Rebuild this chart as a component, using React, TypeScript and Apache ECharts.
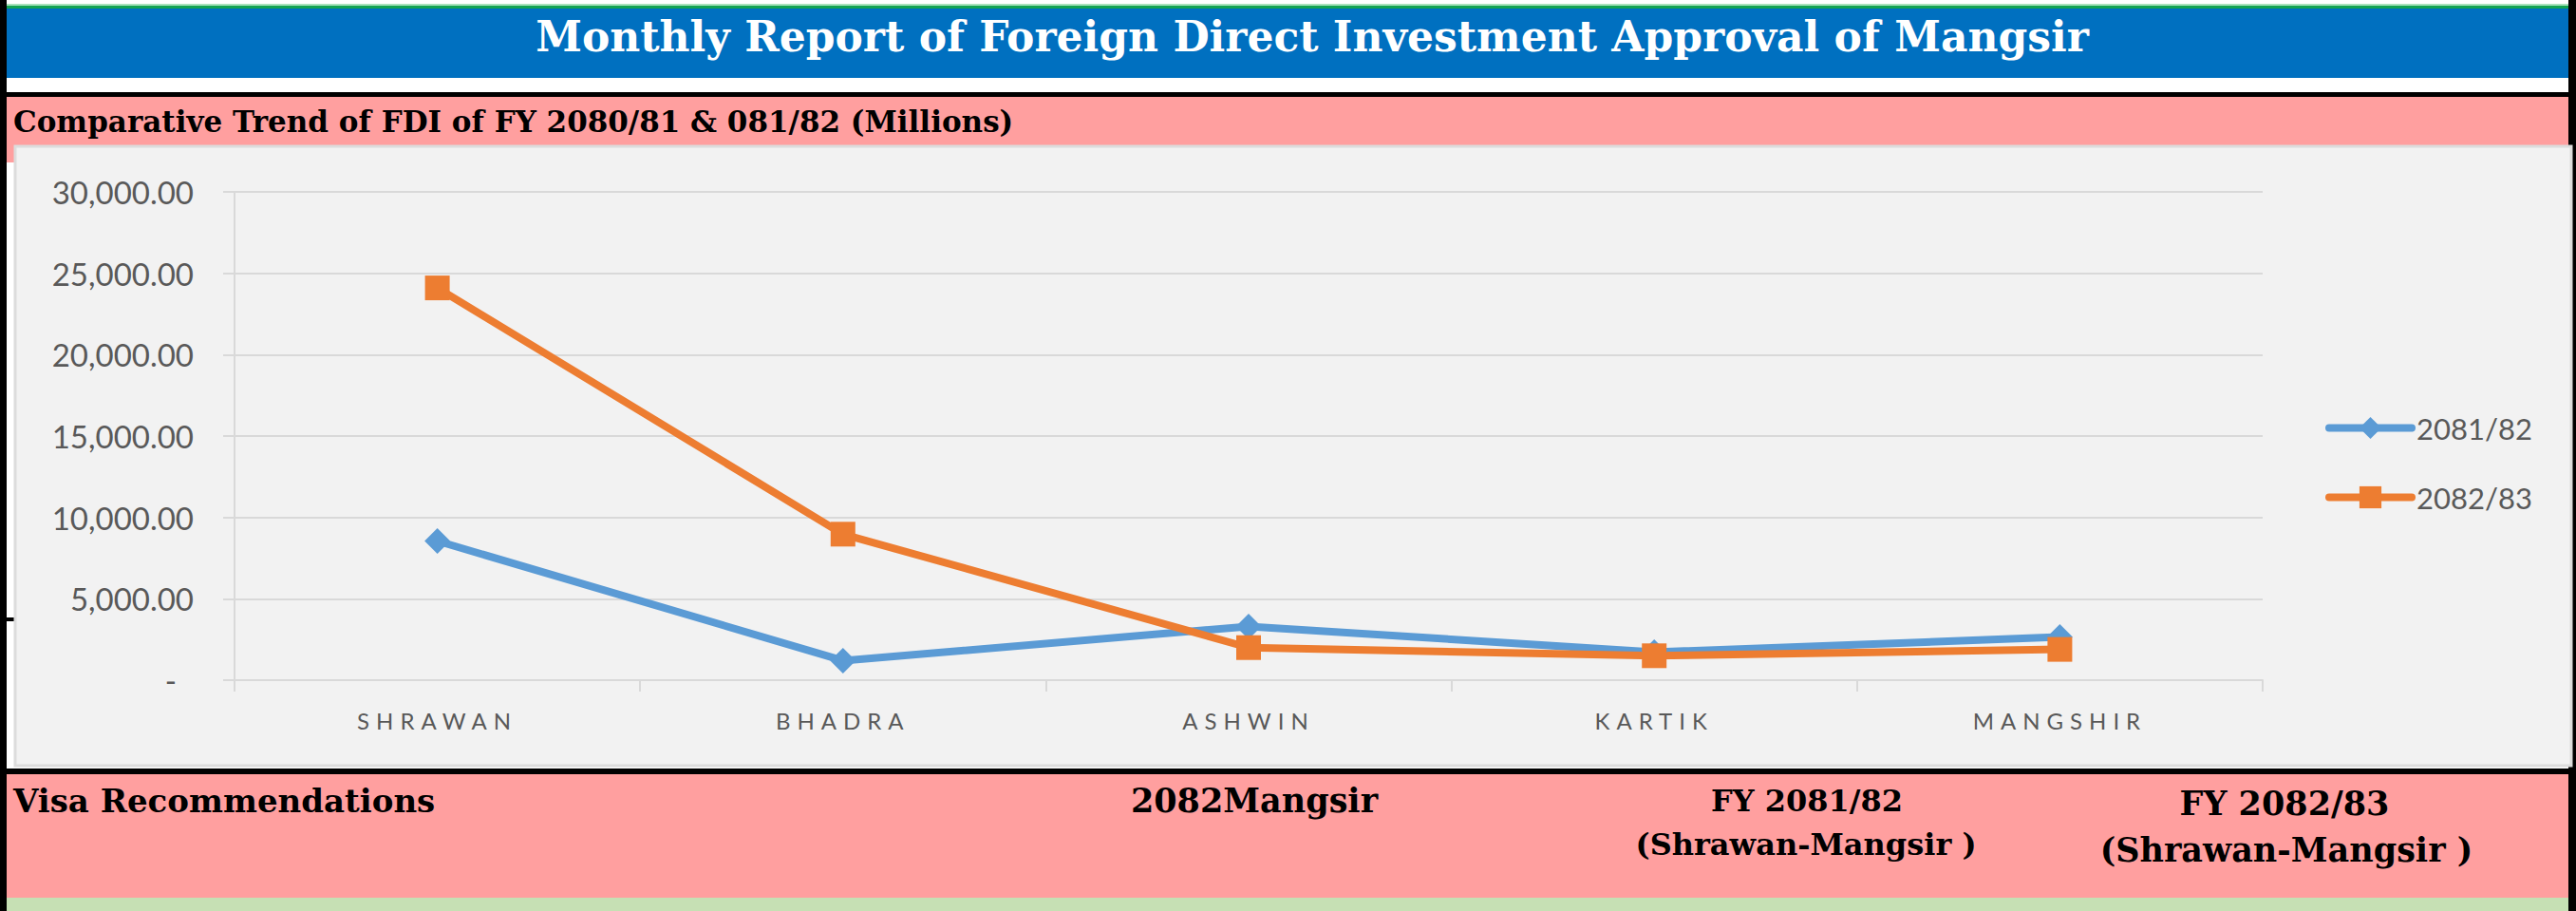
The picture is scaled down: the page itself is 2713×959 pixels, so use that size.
import React, { useEffect, useRef } from "react";
import * as echarts from "echarts";

// Monthly FDI approvals (NPR millions) for the first five months of each fiscal year
const months = ["SHRAWAN", "BHADRA", "ASHWIN", "KARTIK", "MANGSHIR"];
const fy8182 = [8550, 1200, 3300, 1720, 2650];
const fy8283 = [24100, 8970, 2000, 1500, 1890];
const seriesNames = ["2081/82", "2082/83"];
const yMin = 0;
const yMax = 30000;
const yStep = 5000;

// Report sheet texts
const pageTitle = "Monthly Report of Foreign Direct Investment Approval of Mangsir";
const chartHeading = "Comparative Trend of FDI of FY 2080/81 & 081/82 (Millions)";
const visaHeading = "Visa Recommendations";
const monthHeading = "2082Mangsir";
const fyHeadings = ["FY 2081/82", "FY 2082/83"];
const periodLabel = "(Shrawan-Mangsir )";

const W = 2713;
const H = 959;
const SERIF = "'DejaVu Serif', serif";
const SANS = "Lato, 'Liberation Sans', sans-serif";
const AXIS_TEXT = "#595959";
const GRID = "#d9d9d9";
const BLUE = "#5b9bd5";
const ORANGE = "#ed7d31";

// accounting-style number: 30,000.00, zero shown as a dash
const accounting = (v: number) =>
  v === 0 ? "{z|-}" : v.toFixed(2).replace(/\B(?=(\d{3})+(?!\d))/g, ",");

const rect = (x: number, y: number, w: number, h: number, fill: string, extra: any = {}) => ({
  type: "rect",
  z: -5,
  silent: true,
  shape: { x, y, width: w, height: h },
  style: { fill, ...extra },
});

const label = (
  text: string,
  x: number,
  y: number,
  size: number,
  align: string,
  fill = "#000000"
) => ({
  type: "text",
  x,
  y,
  silent: true,
  style: {
    text,
    fill,
    fontFamily: SERIF,
    fontWeight: "bold",
    fontSize: size,
    align,
    verticalAlign: "middle",
    textAlign: align,
    textVerticalAlign: "middle",
  },
});

export default function App() {
  const ref = useRef<HTMLDivElement>(null);

  useEffect(() => {
    if (!ref.current) return;
    const chart = echarts.init(ref.current, undefined, { renderer: "svg" });

    const graphic = [
      // sheet borders and bands
      rect(0, 0, 7, H, "#000000"),
      rect(2705, 0, 8, H, "#000000"),
      rect(7, 4, 2698, 2, "#a8e2bb"),
      rect(7, 6, 2698, 3, "#13a352"),
      rect(7, 9, 2698, 73, "#0070c0"),
      rect(7, 97, 2698, 5, "#000000"),
      rect(7, 102, 2698, 52, "#ff9f9f"),
      rect(7, 102, 9, 69, "#ff9f9f"),
      rect(7, 650, 10, 4, "#000000"),
      // chart area
      rect(16, 154, 2692, 652, "#f2f2f2", { stroke: "#dcdcdc", lineWidth: 3 }),
      rect(7, 809, 2698, 6, "#000000"),
      rect(7, 815, 2698, 130, "#ff9f9f"),
      rect(7, 945, 2698, 14, "#c6e0b4"),
      // headings
      label(pageTitle, 1382, 38, 44, "center", "#ffffff"),
      label(chartHeading, 14, 128, 31, "left"),
      label(visaHeading, 14, 843, 34, "left"),
      label(monthHeading, 1321, 842, 35, "center"),
      label(fyHeadings[0], 1903, 843, 32, "center"),
      label(periodLabel, 1902, 889, 32, "center"),
      label(fyHeadings[1], 2406, 845, 35, "center"),
      label(periodLabel, 2408, 894, 35, "center"),
    ];

    chart.setOption({
      animation: false,
      backgroundColor: "#ffffff",
      graphic,
      grid: { left: 247, top: 202, width: 2136, height: 514, containLabel: false },
      legend: {
        orient: "vertical",
        left: 2444,
        top: 430,
        itemWidth: 87,
        itemHeight: 29,
        itemGap: 42,
        data: seriesNames,
        lineStyle: { width: 8, cap: "round" },
        textStyle: { fontFamily: SANS, fontSize: 31, color: AXIS_TEXT },
      },
      xAxis: {
        type: "category",
        data: months,
        boundaryGap: true,
        axisLine: { show: true, lineStyle: { color: GRID, width: 2 } },
        axisTick: { show: true, length: 12, lineStyle: { color: GRID, width: 2 } },
        axisLabel: { margin: 30, fontFamily: SANS, fontSize: 24, color: AXIS_TEXT },
        splitLine: { show: false },
      },
      yAxis: {
        type: "value",
        min: yMin,
        max: yMax,
        interval: yStep,
        axisLine: { show: true, lineStyle: { color: GRID, width: 2 } },
        axisTick: { show: true, length: 12, lineStyle: { color: GRID, width: 2 } },
        splitLine: { show: true, lineStyle: { color: GRID, width: 2 } },
        axisLabel: {
          margin: 43,
          fontFamily: SANS,
          fontSize: 33,
          color: AXIS_TEXT,
          formatter: accounting,
          rich: {
            z: { fontFamily: SANS, fontSize: 33, color: AXIS_TEXT, padding: [0, 18, 0, 0] },
          },
        },
      },
      series: [
        {
          name: seriesNames[0],
          type: "line",
          data: fy8182,
          symbol: "diamond",
          symbolSize: 27,
          lineStyle: { color: BLUE, width: 8, cap: "round", join: "round" },
          itemStyle: { color: BLUE },
        },
        {
          name: seriesNames[1],
          type: "line",
          data: fy8283,
          symbol: "rect",
          symbolSize: 26,
          lineStyle: { color: ORANGE, width: 8, cap: "round", join: "round" },
          itemStyle: { color: ORANGE },
        },
      ],
    });

    return () => chart.dispose();
  }, []);

  return (
    <>
      <style>{`.fdi-sheet text[style*="24px"]{letter-spacing:7px}`}</style>
      <div
        ref={ref}
        className="fdi-sheet"
        style={{ position: "absolute", left: 0, top: 0, width: W, height: H }}
      />
    </>
  );
}
